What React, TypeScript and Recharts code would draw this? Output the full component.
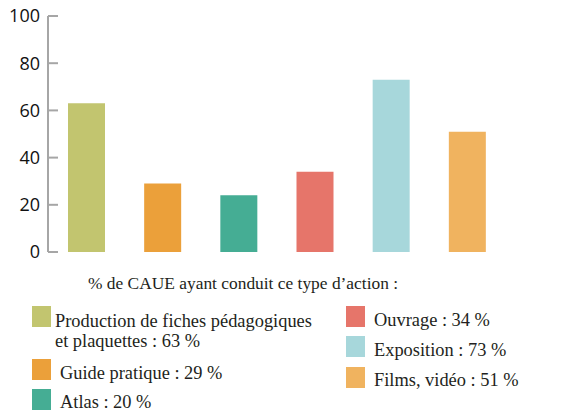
import React from 'react';
import { BarChart, Bar, XAxis, YAxis, Cell } from 'recharts';

// values
const categories = ['Production de fiches', 'Guide pratique', 'Atlas', 'Ouvrage', 'Exposition', 'Films, vidéo'];
const values = [63, 29, 24, 34, 73, 51];
const colors = ['#C2C56F', '#EBA03A', '#45AD94', '#E6756A', '#A7D7DB', '#F0B35F'];
const yTicks = [0, 20, 40, 60, 80, 100];
const bandTicks = [1, 2, 3, 4, 5, 6];

// legend texts as printed (Atlas says 20 % in the legend)
const legendLeft = [
  { lines: ['Production de fiches pédagogiques', 'et plaquettes : 63 %'], color: colors[0] },
  { lines: ['Guide pratique : 29 %'], color: colors[1] },
  { lines: ['Atlas : 20 %'], color: colors[2] },
];
const legendRight = [
  { lines: ['Ouvrage : 34 %'], color: colors[3] },
  { lines: ['Exposition : 73 %'], color: colors[4] },
  { lines: ['Films, vidéo : 51 %'], color: colors[5] },
];
const legendTitle = '% de CAUE ayant conduit ce type d\u2019action :';

const data = categories.map((name, i) => ({ name, value: values[i] }));

const AXIS = '#A6A6A6';
const SERIF = '"Liberation Serif", "Times New Roman", serif';

const leftPos = [
  { sq: 306, tx: 55, base: 327 },
  { sq: 359, tx: 60, base: 379 },
  { sq: 389, tx: 60, base: 408 },
];
const rightPos = [
  { sq: 306, tx: 374, base: 326 },
  { sq: 336, tx: 374, base: 356 },
  { sq: 367, tx: 374, base: 386 },
];

const LegendBlock = () => (
  <svg width={561} height={411} style={{ position: 'absolute', left: 0, top: 0, pointerEvents: 'none' }}>
    <text x={88} y={289} fontFamily={SERIF} fontSize={17.4} fill="#231F20">{legendTitle}</text>
    {legendLeft.map((item, i) => (
      <g key={'l' + i}>
        <rect x={32} y={leftPos[i].sq} width={19} height={21} fill={item.color} />
        {item.lines.map((ln, j) => (
          <text key={j} x={leftPos[i].tx} y={leftPos[i].base + j * 20} fontFamily={SERIF} fontSize={18.4} fill="#231F20">{ln}</text>
        ))}
      </g>
    ))}
    {legendRight.map((item, i) => (
      <g key={'r' + i}>
        <rect x={346} y={rightPos[i].sq} width={19} height={21} fill={item.color} />
        <text x={rightPos[i].tx} y={rightPos[i].base} fontFamily={SERIF} fontSize={18.4} fill="#231F20">{item.lines[0]}</text>
      </g>
    ))}
  </svg>
);

export default function App() {
  return (
    <div style={{ position: 'absolute', left: 0, top: 0, width: 561, height: 411, background: '#fff' }}>
      <BarChart width={561} height={270} data={data} margin={{ top: 16, right: 56, left: 8, bottom: 10 }}>
        <XAxis xAxisId="cat" dataKey="name" hide />
        <XAxis
          xAxisId="num"
          type="number"
          domain={[0, 6]}
          ticks={bandTicks}
          interval={0}
          allowDataOverflow
          height={8}
          stroke={AXIS}
          strokeWidth={2}
          tickSize={-6}
          tickFormatter={() => ''}
        />
        <YAxis
          domain={[0, 100]}
          ticks={yTicks}
          interval={0}
          width={40}
          stroke={AXIS}
          strokeWidth={2}
          tickSize={-10}
          tickMargin={18}
          tick={{ fill: '#111', fontSize: 18, fontFamily: '"Open Sans", sans-serif' }}
        />
        <Bar xAxisId="cat" dataKey="value" barSize={37} isAnimationActive={false}>
          {data.map((d, i) => (
            <Cell key={d.name} fill={colors[i]} />
          ))}
        </Bar>
      </BarChart>
      <LegendBlock />
    </div>
  );
}
